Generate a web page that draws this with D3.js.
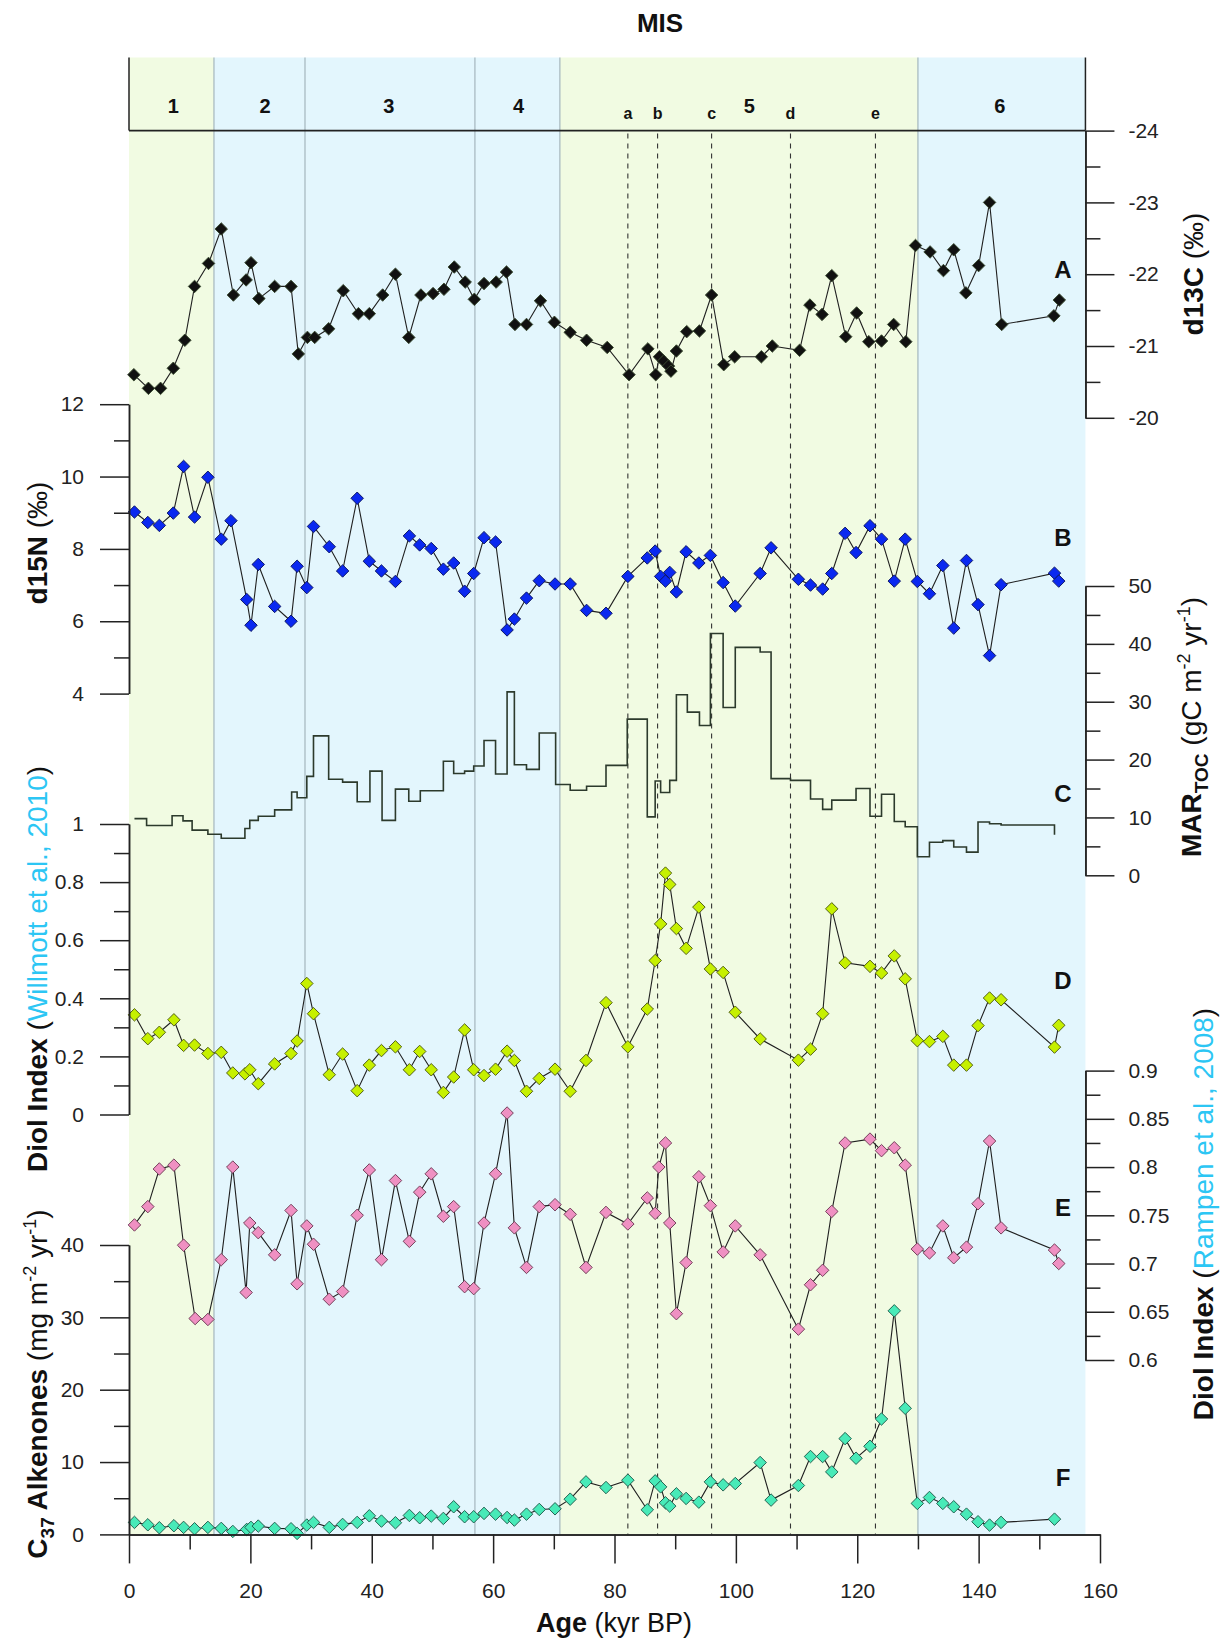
<!DOCTYPE html>
<html><head><meta charset="utf-8">
<script src="https://cdn.jsdelivr.net/npm/d3@7"></script>
<style>
body{margin:0;background:#fff}
svg{display:block}
text{font-family:"Liberation Sans",Arial,Helvetica,sans-serif}
</style>
</head><body>
<svg id="c" width="1220" height="1638"></svg>
<script>
// ---------------- DATA ----------------
const misStart = [0, 14, 29, 57, 71, 130];
const misEnd   = [14, 29, 57, 71, 130, 157.6];
const misName  = ["1", "2", "3", "4", "5", "6"];
const misLabelAge = [7.3, 22.4, 42.8, 64.2, 102.2, 143.5];
const misWarm  = [true, false, false, false, true, false];
const subStageName = ["a", "b", "c", "d", "e"];
const subStageAge  = [82.2, 87.1, 96.0, 109.0, 123.0];

const ageA = [0.8,3.2,5.2,7.3,9.2,10.8,13.1,15.2,17.2,19.3,20.1,21.4,24.0,26.7,27.9,29.4,30.6,32.9,35.3,37.8,39.6,41.8,43.9,46.1,48.1,50.1,51.9,53.6,55.4,56.9,58.5,60.5,62.2,63.6,65.5,67.8,70.1,72.7,75.4,78.8,82.4,85.5,86.8,87.4,88.1,88.9,89.3,90.2,91.9,94.0,96.0,98.0,99.8,104.2,106.0,110.5,112.2,114.2,115.8,118.1,119.9,121.9,124.0,126.0,128.0,129.6,132.0,134.2,135.9,137.9,140.0,141.8,143.8,152.4,153.3];
const d13C = [-20.60,-20.41,-20.41,-20.69,-21.08,-21.83,-22.15,-22.63,-21.71,-21.92,-22.16,-21.66,-21.83,-21.83,-20.89,-21.12,-21.12,-21.24,-21.77,-21.45,-21.45,-21.71,-22.00,-21.12,-21.71,-21.73,-21.79,-22.10,-21.89,-21.65,-21.87,-21.89,-22.03,-21.30,-21.30,-21.63,-21.33,-21.19,-21.08,-20.98,-20.60,-20.96,-20.60,-20.85,-20.79,-20.72,-20.65,-20.93,-21.20,-21.21,-21.71,-20.74,-20.85,-20.85,-21.00,-20.94,-21.57,-21.44,-21.98,-21.13,-21.46,-21.06,-21.07,-21.30,-21.06,-22.40,-22.31,-22.05,-22.34,-21.74,-22.12,-23.00,-21.30,-21.42,-21.64];

const ageB = [0.9,3.1,5.0,7.3,9.0,10.8,13.0,15.2,16.8,19.4,20.1,21.3,24.0,26.7,27.7,29.3,30.4,33.0,35.2,37.6,39.6,41.6,43.9,46.2,47.9,49.8,51.8,53.5,55.3,56.8,58.5,60.4,62.3,63.5,65.5,67.6,70.2,72.7,75.4,78.6,82.2,85.4,86.7,87.6,88.4,89.1,90.2,91.8,93.9,95.8,97.9,99.9,104.0,105.8,110.3,112.3,114.3,115.8,118.0,119.8,122.1,124.0,126.1,127.9,129.9,131.9,134.1,135.9,138.0,139.9,141.8,143.7,152.5,153.2];
const d15N = [9.02,8.73,8.65,8.99,10.28,8.88,9.98,8.27,8.78,6.60,5.89,7.57,6.41,6.00,7.52,6.93,8.62,8.06,7.39,9.40,7.66,7.39,7.10,8.36,8.11,8.01,7.44,7.61,6.83,7.32,8.31,8.19,5.76,6.06,6.64,7.12,7.03,7.03,6.30,6.22,7.24,7.75,7.94,7.24,7.11,7.35,6.81,7.92,7.61,7.82,7.07,6.42,7.32,8.03,7.16,7.00,6.89,7.32,8.43,7.90,8.64,8.27,7.11,8.27,7.10,6.76,7.54,5.81,7.68,6.46,5.05,7.01,7.33,7.11];

const martocAge = [0.9,2.9,7.1,8.9,10.4,13.0,15.2,19.1,19.9,21.3,24.0,26.8,27.7,29.3,30.4,32.9,35.2,37.6,39.7,41.7,43.9,46.1,48.0,51.8,53.5,55.3,56.8,58.5,60.4,62.3,63.5,65.5,67.6,70.3,72.7,75.4,78.6,82.1,85.4,86.7,87.6,89.1,90.2,92.0,94.0,95.8,97.9,99.9,104.0,105.8,109.0,112.3,114.3,115.8,119.8,122.1,124.0,126.1,127.9,129.9,131.9,134.1,135.9,138.0,139.9,141.8,143.7,152.5];
const martoc = [9.8,8.6,10.3,9.4,7.8,7.1,6.4,8.1,9.5,10.2,11.3,14.4,13.4,17.1,24.1,16.6,16.1,12.7,18.0,9.5,14.9,12.8,14.6,19.7,17.6,18.0,18.9,23.3,17.5,31.7,19.1,18.3,24.6,15.7,14.7,15.4,19.0,27.0,10.1,16.3,14.3,16.4,31.2,28.2,25.9,41.8,29.0,39.4,38.6,16.7,16.4,13.2,11.4,13.0,15.0,10.2,14.0,9.3,8.4,3.2,5.7,6.0,4.9,4.0,9.2,8.9,8.7,7.0];

const ageD = [0.9,3.1,5.0,7.4,9.0,10.8,13.0,15.2,17.1,19.1,19.9,21.3,24.0,26.7,27.7,29.3,30.4,33.0,35.2,37.6,39.6,41.6,43.9,46.2,47.9,49.8,51.8,53.5,55.3,56.8,58.5,60.4,62.3,63.5,65.5,67.6,70.2,72.7,75.3,78.6,82.2,85.4,86.7,87.6,88.4,89.1,90.2,91.8,93.9,95.8,97.9,99.9,104.0,110.3,112.3,114.3,115.8,118.0,122.1,124.0,126.1,127.9,129.9,131.9,134.1,135.9,138.0,139.9,141.8,143.7,152.5,153.2];
const diolWillmott = [0.343,0.261,0.283,0.326,0.238,0.239,0.210,0.214,0.143,0.140,0.154,0.106,0.174,0.210,0.253,0.451,0.347,0.137,0.208,0.082,0.170,0.220,0.233,0.154,0.217,0.154,0.076,0.129,0.291,0.154,0.134,0.156,0.218,0.186,0.080,0.124,0.156,0.080,0.186,0.385,0.233,0.363,0.530,0.656,0.831,0.792,0.640,0.572,0.714,0.501,0.489,0.352,0.260,0.187,0.225,0.347,0.708,0.522,0.510,0.487,0.546,0.467,0.254,0.251,0.269,0.170,0.170,0.306,0.401,0.395,0.232,0.307];

const ageE = [0.9,3.1,5.0,7.4,9.0,10.9,13.0,15.2,17.1,19.3,19.9,21.3,24.0,26.7,27.7,29.3,30.4,33.0,35.2,37.6,39.6,41.6,43.9,46.2,47.9,49.8,51.8,53.5,55.3,56.8,58.5,60.4,62.3,63.5,65.5,67.6,70.2,72.7,75.3,78.6,82.2,85.4,86.7,87.3,88.4,89.1,90.2,91.8,93.9,95.8,97.9,99.9,104.0,110.3,112.3,114.3,115.8,118.0,122.1,124.0,126.1,127.9,129.9,131.9,134.1,135.9,138.0,139.9,141.8,143.7,152.5,153.2];
const diolRampen = [0.740,0.759,0.798,0.802,0.719,0.643,0.642,0.704,0.800,0.670,0.742,0.732,0.709,0.755,0.679,0.739,0.720,0.663,0.671,0.750,0.797,0.704,0.786,0.723,0.774,0.793,0.749,0.759,0.676,0.674,0.742,0.793,0.856,0.737,0.696,0.759,0.761,0.751,0.696,0.753,0.741,0.768,0.752,0.800,0.825,0.742,0.648,0.701,0.790,0.760,0.712,0.739,0.709,0.632,0.678,0.693,0.754,0.825,0.829,0.817,0.820,0.802,0.715,0.711,0.739,0.706,0.717,0.762,0.827,0.737,0.714,0.700];

const ageF = [0.9,3.1,5.0,7.4,9.0,10.8,13.0,15.2,17.1,19.4,20.1,21.3,24.0,26.7,27.7,29.3,30.4,33.0,35.2,37.6,39.6,41.6,43.9,46.2,47.9,49.8,51.8,53.5,55.3,56.8,58.5,60.4,62.3,63.5,65.5,67.6,70.2,72.7,75.3,78.6,82.2,85.4,86.7,87.6,88.4,89.1,90.2,91.8,93.9,95.8,97.9,99.9,104.0,105.8,110.3,112.3,114.3,115.8,118.0,119.8,122.1,124.0,126.1,127.9,129.9,131.9,134.1,135.9,138.0,139.9,141.8,143.7,152.5];
const c37 = [1.66,1.33,0.92,1.20,0.97,0.78,0.97,0.83,0.41,0.69,0.97,1.15,0.83,0.78,0.14,1.29,1.66,0.97,1.38,1.66,2.57,1.84,1.61,2.62,2.30,2.53,2.21,3.82,2.44,2.44,2.90,2.80,2.34,1.98,2.80,3.45,3.54,4.87,7.26,6.48,7.49,3.40,7.40,6.57,4.37,3.91,5.61,4.97,4.46,7.26,6.85,7.03,9.93,4.74,6.76,10.76,10.76,8.64,13.24,10.53,12.18,15.95,30.9,17.43,4.28,5.10,4.28,3.82,2.80,1.75,1.29,1.66,2.11];

// tick values
const xMajor = [0,20,40,60,80,100,120,140,160];
const xMinor = [10,30,50,70,90,110,130,150];
const d13CMajor = [-24,-23,-22,-21,-20];
const d13CMinor = [-23.5,-22.5,-21.5,-20.5];
const d15NMajor = [4,6,8,10,12];
const d15NMinor = [5,7,9,11];
const martocMajor = [0,10,20,30,40,50];
const martocMinor = [5,15,25,35,45];
const diolWMajor = [0,0.2,0.4,0.6,0.8,1];
const diolWMinor = [0.1,0.3,0.5,0.7,0.9];
const diolRMajor = [0.6,0.65,0.7,0.75,0.8,0.85,0.9];
const diolRMinor = [0.625,0.675,0.725,0.775,0.825,0.875];
const c37Major = [0,10,20,30,40];
const c37Minor = [5,15,25,35];

// ---------------- LAYOUT ----------------
const svg = d3.select("#c");
const FONT = '"Liberation Sans",Arial,Helvetica,sans-serif';
const x = d3.scaleLinear().domain([0,160]).range([129,1100]);
const xR = x(157.6);
const boxTop = 57.5, boxBottom = 130.6, axisY = 1534.4;
const yA = d3.scaleLinear().domain([-24,-20]).range([130.6,417.8]);
const yB = d3.scaleLinear().domain([4,12]).range([693.6,404.2]);
const yC = d3.scaleLinear().domain([0,50]).range([875.3,586]);
const yD = d3.scaleLinear().domain([0,1]).range([1114.5,824]);
const yE = d3.scaleLinear().domain([0.6,0.9]).range([1360,1070.6]);
const yF = d3.scaleLinear().domain([0,40]).range([axisY,1245]);

// backgrounds
svg.append("g").selectAll("rect").data(misStart).join("rect")
  .attr("x",(d)=>x(d)).attr("y",boxTop)
  .attr("width",(d,i)=>x(misEnd[i])-x(d)).attr("height",axisY-boxTop)
  .attr("fill",(d,i)=>misWarm[i]?"#f1fbe2":"#e3f6fd");
// boundary lines
svg.append("g").selectAll("line").data(misStart.slice(1)).join("line")
  .attr("x1",d=>x(d)).attr("x2",d=>x(d)).attr("y1",boxTop).attr("y2",axisY)
  .attr("stroke","#a4b6bd").attr("stroke-width",1.2);
// dashed sub-stage lines
svg.append("g").selectAll("line").data(subStageAge).join("line")
  .attr("x1",d=>x(d)).attr("x2",d=>x(d)).attr("y1",boxBottom+3).attr("y2",axisY)
  .attr("stroke","#333").attr("stroke-width",1.1).attr("stroke-dasharray","5,5");
// MIS box borders
svg.append("line").attr("x1",x(0)).attr("x2",x(0)).attr("y1",boxTop).attr("y2",boxBottom).attr("stroke","#222").attr("stroke-width",1.5);
svg.append("line").attr("x1",xR).attr("x2",xR).attr("y1",boxTop).attr("y2",boxBottom).attr("stroke","#222").attr("stroke-width",1.5);
svg.append("line").attr("x1",x(0)).attr("x2",xR).attr("y1",boxBottom).attr("y2",boxBottom).attr("stroke","#222").attr("stroke-width",1.8);

// MIS labels
svg.append("g").selectAll("text").data(misName).join("text")
  .attr("x",(d,i)=>x(misLabelAge[i])).attr("y",113)
  .attr("text-anchor","middle").attr("font-weight","bold").attr("font-size",20).attr("fill","#111")
  .text(d=>d);
svg.append("g").selectAll("text").data(subStageName).join("text")
  .attr("x",(d,i)=>x(subStageAge[i])).attr("y",119)
  .attr("text-anchor","middle").attr("font-weight","bold").attr("font-size",16).attr("fill","#111")
  .text(d=>d);
svg.append("text").attr("x",660).attr("y",32).attr("text-anchor","middle")
  .attr("font-weight","bold").attr("font-size",26).attr("fill","#111").text("MIS");

// ---------------- SERIES ----------------
function series(ages, vals, ys, fill, stroke){
  const g = svg.append("g");
  const line = d3.line().x((d,i)=>x(ages[i])).y((d,i)=>ys(vals[i]));
  g.append("path").attr("d",line(vals)).attr("fill","none").attr("stroke","#1f1f1f").attr("stroke-width",1.1);
  g.selectAll("path.m").data(vals).join("path").attr("class","m")
    .attr("d",d3.symbol(d3.symbolSquare,78)())
    .attr("transform",(d,i)=>`translate(${x(ages[i])},${ys(d)}) rotate(45)`)
    .attr("fill",fill).attr("stroke",stroke).attr("stroke-width",0.9);
}
series(ageA, d13C, yA, "#111111", "#3a4a30");
series(ageB, d15N, yB, "#0a28f0", "#0a1460");
// MARTOC step line
svg.append("path")
  .attr("d", d3.line().curve(d3.curveStepAfter).x((d,i)=>x(martocAge[i])).y(d=>yC(d))(martoc))
  .attr("fill","none").attr("stroke","#2c3a2c").attr("stroke-width",1.6);
series(ageD, diolWillmott, yD, "#c6f000", "#4d5a12");
series(ageE, diolRampen, yE, "#ef90c2", "#6e3b55");
series(ageF, c37, yF, "#48eab8", "#1f5c4c");

// ---------------- AXES ----------------
function styleAxis(g){
  g.attr("font-family",FONT).attr("font-size",21);
  g.selectAll("path.domain").attr("stroke","#222").attr("stroke-width",1.5);
  g.selectAll("line").attr("stroke","#222").attr("stroke-width",1.5);
  g.selectAll("text").attr("fill","#222");
}
const fmt = d=>String(+d.toFixed(3));
function yAxis(scale, side, major, minor, pad){
  const gen = side==="left"?d3.axisLeft:d3.axisRight;
  const xpos = side==="left"?x(0):xR;
  const g = svg.append("g").attr("transform",`translate(${xpos},0)`);
  g.append("g").call(gen(scale).tickValues(minor).tickSize(15).tickSizeOuter(0).tickFormat("")).call(styleAxis);
  g.append("g").call(gen(scale).tickValues(major).tickSize(29).tickSizeOuter(0).tickPadding(pad).tickFormat(fmt)).call(styleAxis);
}
yAxis(yA,"right",d13CMajor,d13CMinor,14);
yAxis(yB,"left",d15NMajor,d15NMinor,16);
yAxis(yC,"right",martocMajor,martocMinor,14);
yAxis(yD,"left",diolWMajor,diolWMinor,16);
yAxis(yE,"right",diolRMajor,diolRMinor,14);
yAxis(yF,"left",c37Major,c37Minor,16);
const gx = svg.append("g").attr("transform",`translate(0,${axisY})`);
gx.append("g").call(d3.axisBottom(x).tickValues(xMinor).tickSize(15).tickSizeOuter(0).tickFormat("")).call(styleAxis);
gx.append("g").call(d3.axisBottom(x).tickValues(xMajor).tickSize(29).tickSizeOuter(0).tickPadding(20).tickFormat(fmt)).call(styleAxis);

// ---------------- TITLES ----------------
function rotTitle(tx, ty, parts){
  const t = svg.append("text").attr("transform",`translate(${tx},${ty}) rotate(-90)`)
    .attr("text-anchor","middle").attr("font-size",28).attr("fill","#111");
  parts.forEach(p=>{
    const s = t.append("tspan").text(p.t);
    if(p.b) s.attr("font-weight","bold");
    if(p.c) s.attr("fill",p.c);
    if(p.sub){ s.attr("font-size",19).attr("dy",7); }
    if(p.sup){ s.attr("font-size",18).attr("dy",-11); }
    if(p.dy) s.attr("dy",p.dy);
  });
}
const CYAN = "#2cc6f4";
rotTitle(1203, 274, [{t:"d13C",b:true},{t:" (‰)"}]);
rotTitle(47, 543, [{t:"d15N",b:true},{t:" (‰)"}]);
rotTitle(1201, 727, [{t:"MAR",b:true},{t:"TOC",b:true,sub:true},{t:" (gC m",dy:-7},{t:"-2",sup:true},{t:" yr",dy:11},{t:"-1",sup:true},{t:")",dy:11}]);
rotTitle(47, 969, [{t:"Diol Index",b:true},{t:" ("},{t:"Willmott et al., 2010",c:CYAN},{t:")"}]);
rotTitle(1213, 1214, [{t:"Diol Index",b:true},{t:" ("},{t:"Rampen et al., 2008",c:CYAN},{t:")"}]);
rotTitle(47, 1384, [{t:"C",b:true},{t:"37",b:true,sub:true},{t:" Alkenones",b:true,dy:-7},{t:" (mg m"},{t:"-2",sup:true},{t:" yr",dy:11},{t:"-1",sup:true},{t:")",dy:11}]);

const age = svg.append("text").attr("x",614).attr("y",1632).attr("text-anchor","middle").attr("font-size",27).attr("fill","#111");
age.append("tspan").attr("font-weight","bold").text("Age");
age.append("tspan").text(" (kyr BP)");

// panel letters
const panelLetters = ["A","B","C","D","E","F"];
const panelY = [269,537,793,980,1207,1477];
svg.append("g").selectAll("text").data(panelLetters).join("text")
  .attr("x",1063).attr("y",(d,i)=>panelY[i]+9).attr("text-anchor","middle")
  .attr("font-weight","bold").attr("font-size",24).attr("fill","#111").text(d=>d);
</script>
</body></html>
